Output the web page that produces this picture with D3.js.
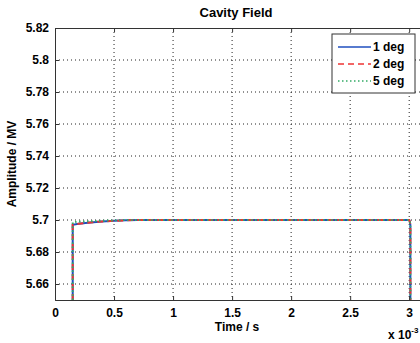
<!DOCTYPE html>
<html>
<head>
<meta charset="utf-8">
<script src="https://cdn.jsdelivr.net/npm/d3@7"></script>
<style>
  body { margin: 0; background: #fff; }
  svg { font-family: "Liberation Sans", Arial, sans-serif; }
  .tick text { font-size: 12px; font-weight: bold; fill: #000; }
</style>
</head>
<body>
<div class="canvas"></div>
<script>
// data (time in units of 1e-3 s, amplitude in MV)
const seriesNames = ['1 deg', '2 deg', '5 deg'];
const time1 = [0.15, 0.15, 0.2, 0.3, 0.4, 0.5, 0.6, 0.7, 3.0, 3.005, 3.01, 3.01];
const amp1  = [5.60, 5.697, 5.6976, 5.6984, 5.699, 5.6995, 5.6998, 5.7, 5.7, 5.699, 5.697, 5.60];
const time2 = [0.15, 0.15, 0.2, 0.3, 0.4, 0.5, 0.6, 0.7, 3.0, 3.005, 3.01, 3.01];
const amp2  = [5.60, 5.697, 5.6976, 5.6985, 5.6991, 5.6995, 5.6998, 5.7, 5.7, 5.699, 5.697, 5.60];
const time5 = [0.15, 0.15, 0.2, 0.3, 0.4, 0.5, 0.6, 0.7, 3.0, 3.005, 3.01, 3.01];
const amp5  = [5.60, 5.6985, 5.699, 5.6992, 5.6995, 5.6998, 5.7, 5.7, 5.7, 5.699, 5.697, 5.60];
const xTicks = [0, 0.5, 1, 1.5, 2, 2.5, 3];
const yTicks = [5.66, 5.68, 5.7, 5.72, 5.74, 5.76, 5.78, 5.8, 5.82];

const colors = ['#1f4fbf', '#ee3333', '#33aa66'];
const dashes = [null, '6,4', '1.5,2.5'];

//------------------------dimensions
const dims = { width: 420, height: 343 };
const plot = { left: 55, right: 421, top: 28, bottom: 300 };

const svg = d3.select('.canvas')
  .append('svg')
  .attr('width', dims.width)
  .attr('height', dims.height);

const x = d3.scaleLinear().domain([0, 3.1]).range([plot.left, plot.right]);
const y = d3.scaleLinear().domain([5.65, 5.82]).range([plot.bottom, plot.top]);

// grid
const grid = svg.append('g');
grid.selectAll('.gx').data(xTicks.slice(1))
  .enter().append('line')
  .attr('x1', d => x(d)).attr('x2', d => x(d))
  .attr('y1', plot.top).attr('y2', plot.bottom)
  .attr('stroke', '#222').attr('stroke-width', 1)
  .attr('stroke-dasharray', '1,3');
grid.selectAll('.gy').data(yTicks.slice(0, -1))
  .enter().append('line')
  .attr('x1', plot.left).attr('x2', plot.right)
  .attr('y1', d => y(d)).attr('y2', d => y(d))
  .attr('stroke', '#222').attr('stroke-width', 1)
  .attr('stroke-dasharray', '1,3');

// curves
const line = d3.line().x(d => x(d[0])).y(d => y(d[1]));
svg.append('clipPath').attr('id', 'clip')
  .append('rect')
  .attr('x', plot.left).attr('y', plot.top)
  .attr('width', plot.right - plot.left).attr('height', plot.bottom - plot.top);

const series = [
  d3.zip(time1, amp1),
  d3.zip(time2, amp2),
  d3.zip(time5, amp5)
];
const curves = svg.append('g').attr('clip-path', 'url(#clip)');
series.forEach((s, i) => {
  curves.append('path')
    .datum(s)
    .attr('d', line)
    .attr('fill', 'none')
    .attr('stroke', colors[i])
    .attr('stroke-width', 2)
    .attr('stroke-dasharray', dashes[i]);
});

// axes (ticks inside, like matlab)
const xAxis = d3.axisBottom(x).tickValues(xTicks).tickSize(-4).tickPadding(8)
  .tickFormat(d3.format('~g'));
const yAxis = d3.axisLeft(y).tickValues(yTicks).tickSize(-4).tickPadding(6)
  .tickFormat(d3.format('~g'));

svg.append('g')
  .attr('transform', `translate(0, ${plot.bottom})`)
  .call(xAxis)
  .call(g => g.select('.domain').attr('stroke', '#333'))
  .call(g => g.selectAll('.tick line').attr('stroke', '#333'));
svg.append('g')
  .attr('transform', `translate(${plot.left}, 0)`)
  .call(yAxis)
  .call(g => g.select('.domain').attr('stroke', '#333'))
  .call(g => g.selectAll('.tick line').attr('stroke', '#333'));
// top axis ticks
svg.append('g')
  .attr('transform', `translate(0, ${plot.top})`)
  .call(d3.axisTop(x).tickValues(xTicks).tickSize(-4).tickFormat(''))
  .call(g => g.select('.domain').attr('stroke', '#333'))
  .call(g => g.selectAll('.tick line').attr('stroke', '#333'));

// titles
svg.append('text')
  .attr('x', 236).attr('y', 17)
  .attr('text-anchor', 'middle')
  .style('font-size', '13px').style('font-weight', 'bold')
  .text('Cavity Field');
svg.append('text')
  .attr('x', 237).attr('y', 331)
  .attr('text-anchor', 'middle')
  .style('font-size', '12px').style('font-weight', 'bold')
  .text('Time / s');
svg.append('text')
  .attr('transform', `translate(16, ${(plot.top + plot.bottom) / 2}) rotate(-90)`)
  .attr('text-anchor', 'middle')
  .style('font-size', '12px').style('font-weight', 'bold')
  .text('Amplitude / MV');
const exp = svg.append('text')
  .attr('x', 388).attr('y', 339)
  .style('font-size', '12px').style('font-weight', 'bold');
exp.append('tspan').text('x 10');
exp.append('tspan').attr('dy', -6).style('font-size', '8px').text('-3');

// legend
const legendGroup = svg.append('g').attr('transform', 'translate(332, 34)');
legendGroup.append('rect')
  .attr('width', 83).attr('height', 59)
  .attr('fill', '#fff').attr('stroke', '#333');
seriesNames.forEach((n, i) => {
  const ly = 13 + i * 17;
  legendGroup.append('line')
    .attr('x1', 6).attr('x2', 39)
    .attr('y1', ly).attr('y2', ly)
    .attr('stroke', colors[i]).attr('stroke-width', 1.6)
    .attr('stroke-dasharray', dashes[i]);
  legendGroup.append('text')
    .attr('x', 41).attr('y', ly + 4)
    .style('font-size', '12px').style('font-weight', 'bold')
    .text(n);
});
</script>
</body>
</html>
